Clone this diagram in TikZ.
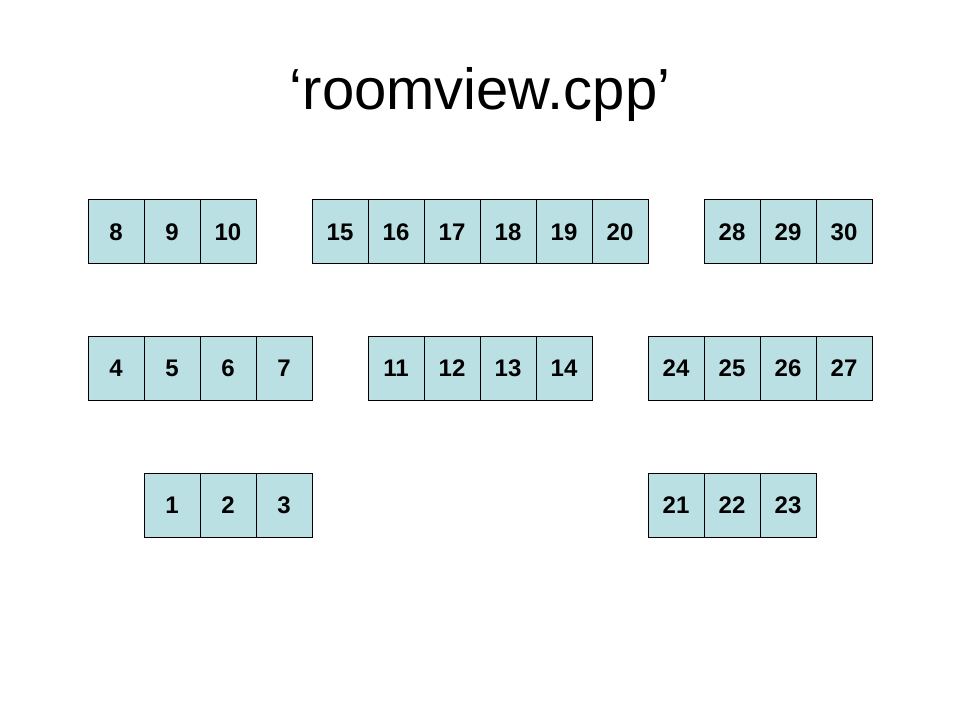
\documentclass[tikz,border=0pt]{standalone}
\usepackage{fontspec}
\setmainfont{Liberation Sans}
\usetikzlibrary{positioning}
\definecolor{cellblue}{RGB}{187,224,228}

\begin{document}
\begin{tikzpicture}[x=0.75pt,y=-0.75pt]
       \tikzset{cell/.style ={rectangle, minimum width=42pt, minimum height=48pt,
               inner sep=0pt, outer sep=0pt, draw, line width=0.75pt, fill=cellblue,
               font=\fontsize{18}{20}\selectfont\bfseries}}
       \tikzset{heading/.style={inner sep=0pt, anchor=base,
               font=\fontsize{43.5}{48}\selectfont}}

        \useasboundingbox (0,0) rectangle (960,720);

        \node[heading] (title) at (480,110) {‘roomview.cpp’};

        % top row
        \node[cell] (c8) at (116,232) {8};
        \node[cell, right =0pt of c8] (c9) {9};
        \node[cell, right =0pt of c9] (c10) {10};

        \node[cell] (c15) at (340,232) {15};
        \node[cell, right =0pt of c15] (c16) {16};
        \node[cell, right =0pt of c16] (c17) {17};
        \node[cell, right =0pt of c17] (c18) {18};
        \node[cell, right =0pt of c18] (c19) {19};
        \node[cell, right =0pt of c19] (c20) {20};

        \node[cell] (c28) at (732,232) {28};
        \node[cell, right =0pt of c28] (c29) {29};
        \node[cell, right =0pt of c29] (c30) {30};

        % middle row
        \node[cell] (c4) at (116,368) {4};
        \node[cell, right =0pt of c4] (c5) {5};
        \node[cell, right =0pt of c5] (c6) {6};
        \node[cell, right =0pt of c6] (c7) {7};

        \node[cell] (c11) at (396,368) {11};
        \node[cell, right =0pt of c11] (c12) {12};
        \node[cell, right =0pt of c12] (c13) {13};
        \node[cell, right =0pt of c13] (c14) {14};

        \node[cell] (c24) at (676,368) {24};
        \node[cell, right =0pt of c24] (c25) {25};
        \node[cell, right =0pt of c25] (c26) {26};
        \node[cell, right =0pt of c26] (c27) {27};

        % bottom row
        \node[cell] (c1) at (172,505) {1};
        \node[cell, right =0pt of c1] (c2) {2};
        \node[cell, right =0pt of c2] (c3) {3};

        \node[cell] (c21) at (676,505) {21};
        \node[cell, right =0pt of c21] (c22) {22};
        \node[cell, right =0pt of c22] (c23) {23};
\end{tikzpicture}
\end{document}
